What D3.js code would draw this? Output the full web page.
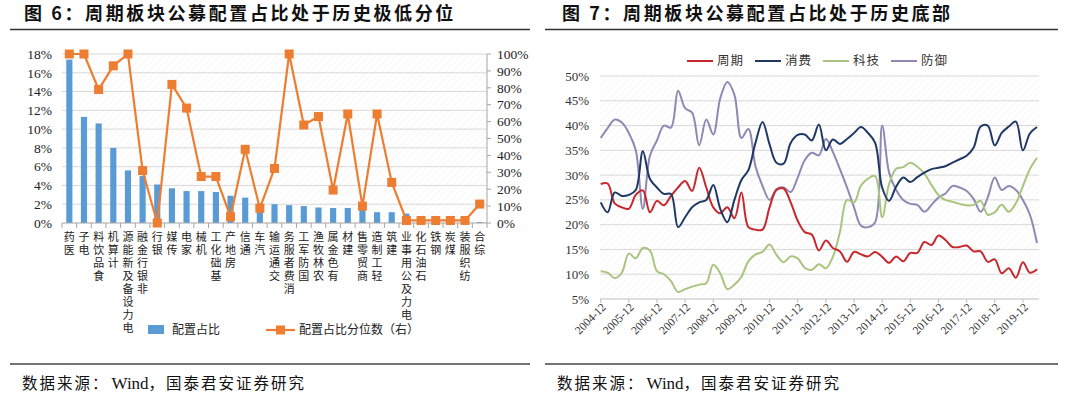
<!DOCTYPE html>
<html><head><meta charset="utf-8">
<script src="https://cdn.jsdelivr.net/npm/d3@7"></script>
<style>
body{margin:0;background:#fff;}
svg{display:block;}
.vt{writing-mode:vertical-rl;text-orientation:upright;}
</style></head><body>
<svg id="c" width="1080" height="395"></svg>
<script>
// ---------- Figure 6 data ----------
const sectors = ["医药","电子","食品饮料","计算机","电力设备及新能源","非银行金融","银行","传媒","家电","机械","基础化工","房地产","通信","汽车","交通运输","消费者服务","国防军工","农林牧渔","有色金属","建材","商贸零售","轻工制造","建筑","电力及公用事业","石油石化","钢铁","煤炭","纺织服装","综合"];
const weights = [17.4,11.3,10.6,8.0,5.6,5.0,4.1,3.7,3.4,3.4,3.3,2.9,2.7,2.1,2.0,1.9,1.8,1.65,1.6,1.6,1.4,1.15,1.15,1.0,0.3,0.25,0.2,0.15,0.1];
const pctRanks = [100,100,79,93,100,31,0,82,68,27.5,27.5,3.7,43.6,8.7,32.3,100,58,63,19.5,64.5,10,64.5,24,1.5,1.5,1.5,1.5,1.5,11.2];
const leftTicks = [0,2,4,6,8,10,12,14,16,18];
const rightTicks = [0,10,20,30,40,50,60,70,80,90,100];
const legend6 = ["配置占比","配置占比分位数（右）"];

// ---------- Figure 7 data ----------
const quarters = ["2004-12","2005-03","2005-06","2005-09","2005-12","2006-03","2006-06","2006-09","2006-12","2007-03","2007-06","2007-09","2007-12","2008-03","2008-06","2008-09","2008-12","2009-03","2009-06","2009-09","2009-12","2010-03","2010-06","2010-09","2010-12","2011-03","2011-06","2011-09","2011-12","2012-03","2012-06","2012-09","2012-12","2013-03","2013-06","2013-09","2013-12","2014-03","2014-06","2014-09","2014-12","2015-03","2015-06","2015-09","2015-12","2016-03","2016-06","2016-09","2016-12","2017-03","2017-06","2017-09","2017-12","2018-03","2018-06","2018-09","2018-12","2019-03","2019-06","2019-09","2019-12","2020-03","2020-06"];
const cycle   = [28.2,28.3,24.3,23.5,23.2,26.0,26.9,22.5,24.8,23.9,25.8,27.5,28.8,26.8,31.5,27.5,23.5,22.3,23.5,21.3,26.5,19.5,19.0,19.0,23.5,27.0,27.3,24.5,20.8,18.5,18.0,14.8,16.8,15.3,14.6,12.5,14.5,14.0,13.6,14.5,13.5,12.3,13.6,12.6,14.3,14.3,16.5,15.9,17.8,16.9,15.5,15.5,15.8,14.6,14.6,12.5,13.0,10.2,11.2,9.3,12.4,10.3,11.0];
const consume = [24.5,22.5,26.5,25.8,26.0,27.0,34.8,29.2,27.5,26.2,26.2,19.5,21.5,23.5,24.5,25.0,28.0,23.2,20.5,25.0,29.0,31.0,36.5,40.7,36.2,32.5,32.3,36.5,38.1,38.2,37.0,40.2,35.0,37.2,36.3,37.3,38.5,39.7,38.5,36.5,27.5,24.8,27.7,29.5,28.6,29.6,30.5,31.2,31.5,31.8,32.5,33.2,33.9,35.5,39.8,40.0,36.0,38.5,39.8,40.8,35.0,38.4,39.7];
const tech    = [10.6,10.3,9.2,10.3,14.2,13.2,15.3,14.8,10.6,10.0,8.6,6.4,7.0,7.5,7.9,8.2,11.9,10.2,7.0,7.9,9.5,12.6,14.0,14.5,16.0,13.9,12.4,13.6,13.2,11.3,10.9,12.0,11.2,13.5,18.5,25.0,24.5,27.9,29.3,29.8,21.5,28.2,31.3,31.6,32.5,31.7,30.3,28.0,26.0,25.0,24.6,24.2,23.9,24.0,24.8,22.0,22.5,24.0,22.6,24.3,27.8,31.2,33.5];
const defense = [37.5,39.5,41.2,40.6,38.5,35.0,23.2,33.9,37.0,40.0,39.6,47.0,43.5,42.6,36.0,41.2,38.2,45.5,48.8,46.2,37.5,39.3,31.8,27.8,25.0,27.2,27.5,26.6,29.5,33.0,34.5,34.0,37.3,34.7,31.2,27.5,23.5,19.8,19.5,20.5,40.0,30.5,27.0,25.0,24.2,24.0,22.6,24.0,25.5,26.3,27.8,27.5,26.8,25.2,22.6,25.5,29.5,27.0,27.8,27.0,25.0,22.0,16.3];
const seriesNames = ["周期","消费","科技","防御"];
const lineTicks = [5,10,15,20,25,30,35,40,45,50];
const yearTicks = ["2004-12","2005-12","2006-12","2007-12","2008-12","2009-12","2010-12","2011-12","2012-12","2013-12","2014-12","2015-12","2016-12","2017-12","2018-12","2019-12"];

const titles = ["图 6：周期板块公募配置占比处于历史极低分位","图 7：周期板块公募配置占比处于历史底部"];
const sourceParts = ["数据来源：","Wind","，国泰君安证券研究"];

// ---------- drawing ----------
const svg = d3.select("#c");
const serif = "'Liberation Serif','Times New Roman',serif";
const cjk = "'Noto Sans CJK SC','Noto Sans',sans-serif";
const gridCol = "#d9d9d9";

const defs = svg.append("defs");
const pat = defs.append("pattern").attr("id","hatch").attr("patternUnits","userSpaceOnUse")
  .attr("width",5).attr("height",5).attr("patternTransform","rotate(45)");
pat.append("line").attr("x1",0).attr("y1",0).attr("x2",0).attr("y2",5).attr("stroke","#f1f1f1").attr("stroke-width",1.2);

// titles, rules, source
[[24,10,530],[562,545,1058]].forEach((p,i)=>{
  svg.append("text").attr("x",p[0]).attr("y",20).text(titles[i])
    .attr("font-family",cjk).attr("font-weight",700).attr("font-size",18).attr("letter-spacing",2.6).attr("fill","#111");
  svg.append("line").attr("x1",p[1]).attr("x2",p[2]).attr("y1",29.5).attr("y2",29.5).attr("stroke","#333").attr("stroke-width",1.6);
  svg.append("line").attr("x1",p[1]).attr("x2",p[2]).attr("y1",364).attr("y2",364).attr("stroke","#444").attr("stroke-width",1.4);
  const st = svg.append("text").attr("x",i?557:22).attr("y",389).attr("font-size",15.5).attr("fill","#111");
  st.append("tspan").attr("font-family",cjk).attr("letter-spacing",2).text(sourceParts[0]);
  st.append("tspan").attr("font-family",serif).attr("font-size",17).attr("dx",2).text(sourceParts[1]);
  st.append("tspan").attr("font-family",cjk).attr("letter-spacing",2).text(sourceParts[2]);
});

// ===== Figure 6 =====
const g6 = svg.append("g");
const xL = d3.scaleBand().domain(sectors).range([62,487]).paddingInner(0.58).paddingOuter(0.29);
const yL = d3.scaleLinear().domain([0,18]).range([223,54]);
const yR = d3.scaleLinear().domain([0,100]).range([223,54]);

g6.append("rect").attr("x",62).attr("y",54).attr("width",425).attr("height",169).attr("fill","url(#hatch)");
g6.selectAll(".gl").data(leftTicks.filter(d=>d>0)).join("line")
  .attr("x1",62).attr("x2",487).attr("y1",d=>yL(d)).attr("y2",d=>yL(d)).attr("stroke",gridCol);
g6.selectAll(".yl").data(leftTicks).join("text")
  .attr("x",52).attr("y",d=>yL(d)).attr("dy","0.35em").attr("text-anchor","end")
  .attr("font-family",serif).attr("font-size",13.5).attr("fill","#222").text(d=>d+"%");
g6.selectAll(".yr").data(rightTicks).join("text")
  .attr("x",497).attr("y",d=>yR(d)).attr("dy","0.35em").attr("text-anchor","start")
  .attr("font-family",serif).attr("font-size",13.5).attr("fill","#222").text(d=>d+"%");
g6.append("line").attr("x1",487).attr("x2",487).attr("y1",54).attr("y2",223).attr("stroke","#a6a6a6");
g6.selectAll(".rt").data(rightTicks).join("line")
  .attr("x1",487).attr("x2",491).attr("y1",d=>yR(d)).attr("y2",d=>yR(d)).attr("stroke","#a6a6a6");
g6.selectAll(".bar").data(sectors).join("rect")
  .attr("x",d=>xL(d)).attr("width",xL.bandwidth())
  .attr("y",(d,i)=>yL(weights[i])).attr("height",(d,i)=>yL(0)-yL(weights[i]))
  .attr("fill","#5b9bd5");
g6.append("line").attr("x1",62).attr("x2",487).attr("y1",223).attr("y2",223).attr("stroke","#a6a6a6");
const bounds = sectors.map(d=>xL(d)-xL.step()*xL.paddingInner()/2).concat([487]);
g6.selectAll(".xt").data(bounds).join("line")
  .attr("x1",d=>d).attr("x2",d=>d).attr("y1",223).attr("y2",228).attr("stroke","#a6a6a6");
g6.selectAll(".xl").data(sectors).join("text").attr("class","vt")
  .attr("x",d=>xL(d)+xL.bandwidth()/2).attr("y",231)
  .attr("font-family",cjk).attr("font-size",11).attr("letter-spacing",2).attr("fill","#222")
  .text(d=>Array.from(d).reverse().join(""));
const lineL = d3.line().x((d,i)=>xL(sectors[i])+xL.bandwidth()/2).y(d=>yR(d));
g6.append("path").datum(pctRanks).attr("d",lineL).attr("fill","none").attr("stroke","#ed7d31").attr("stroke-width",2.2);
g6.selectAll(".mk").data(pctRanks).join("rect")
  .attr("x",(d,i)=>xL(sectors[i])+xL.bandwidth()/2-4.5).attr("y",d=>yR(d)-4.5)
  .attr("width",9).attr("height",9).attr("fill","#ed7d31");
g6.append("rect").attr("x",148).attr("y",325).attr("width",16).attr("height",9).attr("fill","#5b9bd5");
g6.append("text").attr("x",172).attr("y",330).attr("dy","0.35em").attr("font-family",cjk).attr("font-size",12).attr("fill","#222").text(legend6[0]);
g6.append("line").attr("x1",266).attr("x2",295).attr("y1",330).attr("y2",330).attr("stroke","#ed7d31").attr("stroke-width",2.2);
g6.append("rect").attr("x",276).attr("y",325.5).attr("width",9).attr("height",9).attr("fill","#ed7d31");
g6.append("text").attr("x",299).attr("y",330).attr("dy","0.35em").attr("font-family",cjk).attr("font-size",12).attr("fill","#222").text(legend6[1]);

// ===== Figure 7 =====
const g7 = svg.append("g");
const parse = d3.timeParse("%Y-%m");
const xT = d3.scaleTime().domain([parse(quarters[0]),parse(quarters[quarters.length-1])]).range([600.7,1037]);
const yT = d3.scaleLinear().domain([5,50]).range([299,76]);
g7.append("rect").attr("x",600).attr("y",76).attr("width",439).attr("height",223).attr("fill","url(#hatch)");
g7.selectAll(".gl").data(lineTicks).join("line")
  .attr("x1",600).attr("x2",1039).attr("y1",d=>yT(d)).attr("y2",d=>yT(d))
  .attr("stroke",d=>d===5?"#bfbfbf":gridCol);
g7.selectAll(".yl").data(lineTicks).join("text")
  .attr("x",589).attr("y",d=>yT(d)).attr("dy","0.35em").attr("text-anchor","end")
  .attr("font-family",serif).attr("font-size",13).attr("fill","#333").text(d=>d+"%");
g7.selectAll(".xt").data(yearTicks).join("line")
  .attr("x1",d=>xT(parse(d))).attr("x2",d=>xT(parse(d))).attr("y1",299).attr("y2",303).attr("stroke","#bfbfbf");
g7.selectAll(".xl").data(yearTicks).join("text")
  .attr("transform",d=>`translate(${xT(parse(d))+3},${305}) rotate(-45)`)
  .attr("text-anchor","end").attr("dy","0.35em")
  .attr("font-family",serif).attr("font-size",11.5).attr("fill","#333").text(d=>d);
const colors = ["#c8282d","#1f3864","#a9c47f","#8e88b4"];
const allSeries = [cycle,consume,tech,defense];
const lineT = d3.line().x((d,i)=>xT(parse(quarters[i]))).y(d=>yT(d)).curve(d3.curveCatmullRom.alpha(0.5));
[3,2,0,1].forEach(k=>{
  g7.append("path").datum(allSeries[k]).attr("d",lineT).attr("fill","none")
    .attr("stroke",colors[k]).attr("stroke-width",2).attr("stroke-linejoin","round");
});
const legX = [687,755,823,891];
seriesNames.forEach((n,k)=>{
  g7.append("line").attr("x1",legX[k]).attr("x2",legX[k]+26).attr("y1",61).attr("y2",61).attr("stroke",colors[k]).attr("stroke-width",2);
  g7.append("text").attr("x",legX[k]+30).attr("y",61).attr("dy","0.35em").attr("font-family",cjk).attr("font-size",12.5)
    .attr("letter-spacing",1).attr("fill","#333").text(n);
});
</script>
</body></html>
